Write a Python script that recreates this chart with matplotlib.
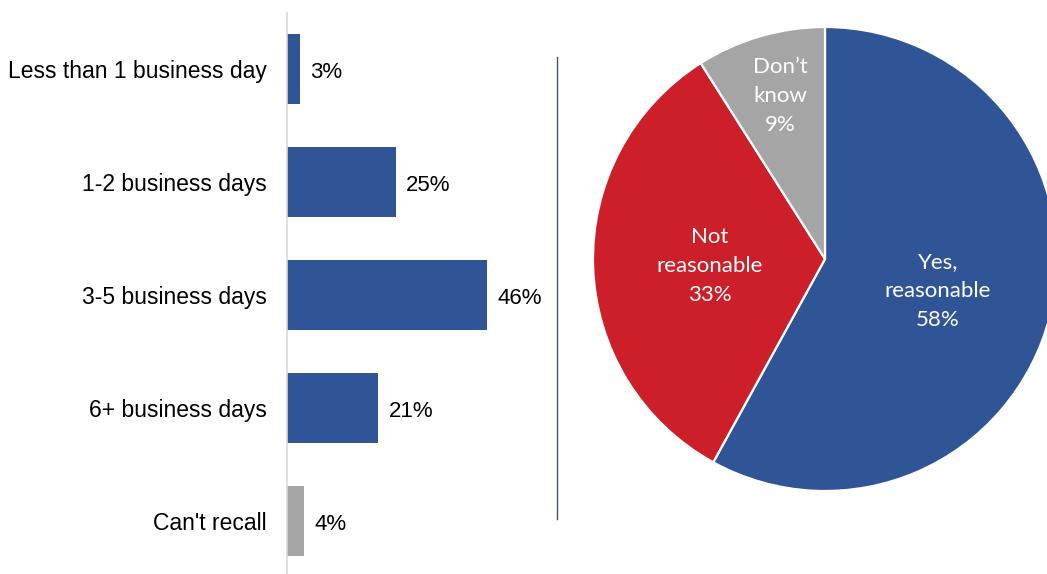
import matplotlib
matplotlib.use("Agg")
import matplotlib.pyplot as plt
from matplotlib.lines import Line2D

categories = ["Less than 1 business day", "1-2 business days", "3-5 business days",
              "6+ business days", "Can't recall"]
bar_values = [3, 25, 46, 21, 4]
bar_colors = ["#2F5597", "#2F5597", "#2F5597", "#2F5597", "#A5A5A5"]

pie_labels = ["Yes,\nreasonable", "Not\nreasonable", "Don\u2019t\nknow"]
pie_values = [58, 33, 9]
pie_colors = ["#2F5597", "#CD1F2A", "#A5A5A5"]

W, H = 1047, 574
fig = plt.figure(figsize=(W / 100, H / 100), dpi=100)

# ---- bar chart ----
ax_l, ax_top, ax_r = 287, 12.5, 540
ax = fig.add_axes([ax_l / W, 0, (ax_r - ax_l) / W, (H - ax_top) / H])
y = list(range(len(categories)))
ax.barh(y, bar_values, height=0.62, color=bar_colors)
ax.set_ylim(-0.5 + (H - ax_top) / 113.0, -0.5)
ax.set_xlim(0, (ax_r - ax_l) / 4.35)
ax.set_yticks(y)
ax.set_yticklabels(categories, fontsize=16.5, family="Liberation Sans")
ax.tick_params(axis="y", length=0, pad=14.4)
ax.set_xticks([])
for s in ["top", "right", "bottom"]:
    ax.spines[s].set_visible(False)
ax.spines["left"].set_color("#D9D9D9")
ax.spines["left"].set_linewidth(1.2)
for i, v in enumerate(bar_values):
    ax.annotate(f"{v}%", (v, i + 0.03), xytext=(7.5, 0), textcoords="offset points",
                va="center", ha="left", fontsize=16, family="Liberation Sans")

# ---- divider ----
fig.add_artist(Line2D([557 / W, 557 / W], [1 - 57 / H, 1 - 519 / H],
                      color="#44546A", linewidth=1))

# ---- pie ----
cx, cy, r = 825, 259, 232
pax = fig.add_axes([(cx - r) / W, (H - cy - r) / H, 2 * r / W, 2 * r / H])
wedges, _ = pax.pie(pie_values, colors=pie_colors, startangle=90, counterclock=False,
                    radius=1, wedgeprops=dict(edgecolor="white", linewidth=1.6))
pax.set_xlim(-1, 1)
pax.set_ylim(-1, 1)
pax.set_aspect("auto")
pax.axis("off")

label_pos = [(938, 291), (710, 266), (780, 96)]
for (px, py), lab, v in zip(label_pos, pie_labels, pie_values):
    fig.text(px / W, 1 - py / H, f"{lab}\n{v}%", ha="center", va="center",
             color="white", fontsize=16, family="Lato", linespacing=1.57)

fig.savefig("out.png", dpi=100)
